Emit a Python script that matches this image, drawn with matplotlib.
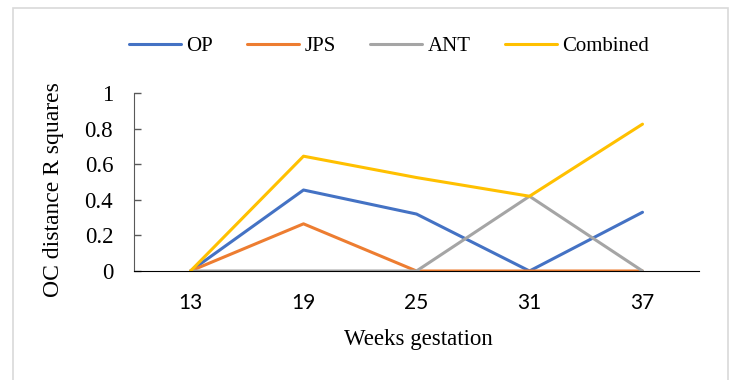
import matplotlib.pyplot as plt
from matplotlib.patches import Rectangle

weeks = ["13", "19", "25", "31", "37"]
op = [0, 0.455, 0.32, 0, 0.33]
jps = [0, 0.265, 0, 0, 0]
ant = [0, 0, 0, 0.42, 0]
combined = [0, 0.645, 0.525, 0.42, 0.825]

series = [
    ("OP", op, "#4472C4"),
    ("JPS", jps, "#ED7D31"),
    ("ANT", ant, "#A5A5A5"),
    ("Combined", combined, "#FFC000"),
]

serif = ["Liberation Serif", "DejaVu Serif"]

fig = plt.figure(figsize=(7.29, 3.80), dpi=100)
ax = fig.add_axes([134 / 729, 1 - 271 / 380, 565 / 729, 178 / 380])

x = list(range(len(weeks)))
for name, vals, color in series:
    ax.plot(x, vals, color=color, lw=2.2, label=name, solid_capstyle="round")

ax.set_xlim(-0.5, len(weeks) - 0.5)
ax.set_ylim(0, 1)
ax.set_xticks(x)
ax.set_xticklabels(weeks, family="Lato", fontsize=15)
ax.set_yticks([0, 0.2, 0.4, 0.6, 0.8, 1])
ax.set_yticklabels(["0", "0.2", "0.4", "0.6", "0.8", "1"], family=serif, fontsize=16.5)
ax.tick_params(axis="x", length=0, pad=15.5)
ax.tick_params(axis="y", direction="in", length=5, width=1, color="#595959", pad=15)

for side in ["top", "right"]:
    ax.spines[side].set_visible(False)
ax.spines["left"].set_color("#595959")
ax.spines["bottom"].set_color("black")

fig.text(54 / 729, 1 - 189.5 / 380, "OC distance R squares", rotation=90,
         ha="center", va="center", family=serif, fontsize=17)
fig.text(418 / 729, 1 - 340 / 380, "Weeks gestation",
         ha="center", va="center", family=serif, fontsize=16.5)

fig.legend(loc="center", bbox_to_anchor=(389 / 729, 1 - 46 / 380), ncol=4,
           frameon=False, prop={"family": serif, "size": 15},
           handlelength=2.5, handletextpad=0.25, columnspacing=1.65)

fig.patches.append(Rectangle((13 / 729, -0.01), 715 / 729, 1 - 8 / 380 + 0.01,
                             transform=fig.transFigure, fill=False,
                             edgecolor="#D9D9D9", lw=1.2))

fig.savefig("out.png", dpi=100)
